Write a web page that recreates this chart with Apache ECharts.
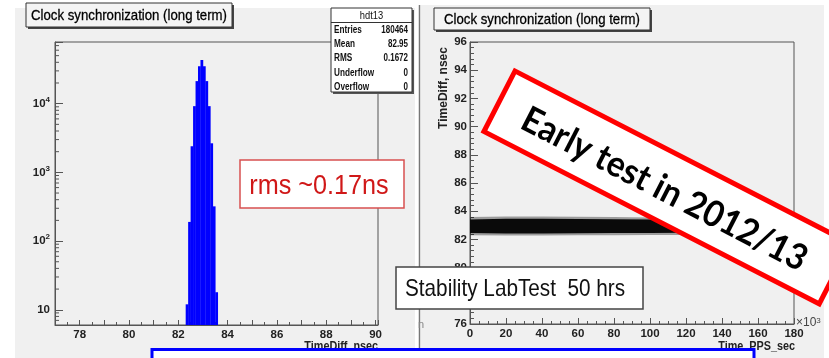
<!DOCTYPE html>
<html>
<head>
<meta charset="utf-8">
<script src="https://cdn.jsdelivr.net/npm/echarts@6/dist/echarts.min.js"></script>
<style>
  html, body { margin: 0; padding: 0; background: #ffffff; }
  #chart { width: 829px; height: 358px; }
</style>
</head>
<body>
<div id="chart"></div>
<script>
// ---- Left panel: histogram of TimeDiff (ns), log-scale counts ----
const binEdges  = [82.3, 82.4, 82.5, 82.6, 82.7, 82.8, 82.9, 83.0, 83.1, 83.2, 83.3, 83.4, 83.5, 83.6];
const binCounts = [12, 190, 2400, 9200, 21300, 35000, 43100, 35000, 21300, 9200, 2650, 320, 18];
const histXTicks = [78, 80, 82, 84, 86, 88, 90];
const histLogMinor = [7, 8, 9, 20, 30, 40, 50, 60, 70, 80, 90, 200, 300, 400, 500, 600, 700, 800, 900,
                      2000, 3000, 4000, 5000, 6000, 7000, 8000, 9000, 20000, 30000, 40000, 50000, 60000, 70000];
const statsRows = [
  ['Entries', '180464'],
  ['Mean', '82.95'],
  ['RMS', '0.1672'],
  ['Underflow', '0'],
  ['Overflow', '0']
];

// ---- Right panel: TimeDiff (ns) versus time (s), dense scatter band ----
const bandTime      = [0, 20000, 40000, 60000, 80000, 100000, 120000, 140000, 160000, 180000];
const bandOuterLow  = [82.30, 82.28, 82.28, 82.30, 82.30, 82.32, 82.32, 82.32, 82.32, 82.32];
const bandOuterHigh = [83.58, 83.62, 83.62, 83.60, 83.58, 83.56, 83.55, 83.55, 83.55, 83.55];
const bandInnerLow  = [82.45, 82.42, 82.42, 82.44, 82.45, 82.46, 82.47, 82.47, 82.47, 82.47];
const bandInnerHigh = [83.42, 83.46, 83.46, 83.44, 83.43, 83.41, 83.40, 83.40, 83.40, 83.40];

const SANS = "'Liberation Sans','DejaVu Sans',sans-serif";
const PANEL = '#f0f0f0';
const FRAME = '#555555';

const histXMin = 77, histXMax = 90.1, histYMin = 6, histYMax = 79000;

const chart = echarts.init(document.getElementById('chart'), null, { renderer: 'canvas' });

const supLabel = v => {
  const e = Math.log10(v);
  const r = Math.round(e);
  if (Math.abs(e - r) > 1e-6) return '';
  return r === 1 ? '10' : '10{s|' + r + '}';
};

const tickStyle = { color: FRAME, width: 1 };

// one filled polygon between the low and high envelopes of the scatter band
function bandSeries(low, high, color) {
  return {
    type: 'custom', xAxisIndex: 1, yAxisIndex: 1, silent: true,
    encode: { x: 0, y: [1, 2] },
    data: bandTime.map((t, i) => [t, low[i], high[i]]),
    renderItem: (params, api) => {
      if (params.dataIndex !== 0) return null;
      const pts = [];
      for (let i = 0; i < bandTime.length; i++) pts.push(api.coord([bandTime[i], low[i]]));
      for (let i = bandTime.length - 1; i >= 0; i--) pts.push(api.coord([bandTime[i], high[i]]));
      return { type: 'polygon', shape: { points: pts }, style: { fill: color } };
    }
  };
}

// stats box texts
const statsGraphics = [];
statsRows.forEach((row, i) => {
  const y = 30 + i * 14.3;
  statsGraphics.push({ type: 'text', z: 120, x: 334, y: y, scaleX: 0.82,
    style: { text: row[0], font: 'bold 10px ' + SANS, fill: '#111', textAlign: 'left', textVerticalAlign: 'middle' } });
  statsGraphics.push({ type: 'text', z: 120, x: 408, y: y, scaleX: 0.8,
    style: { text: row[1], font: 'bold 10px ' + SANS, fill: '#111', textAlign: 'right', textVerticalAlign: 'middle' } });
});

function titleBox(x, y, w, h, text) {
  return [
    { type: 'rect', z: 110, shape: { x: x + 2, y: y + 2, width: w, height: h }, style: { fill: '#444' } },
    { type: 'rect', z: 111, shape: { x: x, y: y, width: w, height: h }, style: { fill: '#f4f4f4', stroke: '#333', lineWidth: 1 } },
    { type: 'text', z: 112, x: x + w / 2, y: y + h / 2 + 0.5, scaleX: 0.88,
      style: { text: text, font: '15px ' + SANS, fill: '#000', textAlign: 'center', textVerticalAlign: 'middle',
        stroke: '#000', lineWidth: 0.3 } }
  ];
}

const labelFont = { color: '#222', fontSize: 11.5, fontWeight: 'bold', fontFamily: SANS };

const option = {
  backgroundColor: '#ffffff',
  animation: false,
  textStyle: { fontFamily: SANS },
  grid: [
    { left: 55, top: 42, width: 323, height: 283, show: true, borderColor: FRAME, borderWidth: 1, backgroundColor: 'transparent' },
    { left: 470, top: 42, width: 324, height: 282, show: true, borderColor: FRAME, borderWidth: 1, backgroundColor: 'transparent' }
  ],
  xAxis: [
    {
      type: 'value', gridIndex: 0, min: histXMin, max: histXMax, interval: 1,
      axisLine: { show: true, lineStyle: { color: FRAME } },
      axisTick: { show: true, inside: true, length: 5, lineStyle: tickStyle },
      minorTick: { show: true, splitNumber: 2, length: 3, lineStyle: tickStyle },
      splitLine: { show: false },
      axisLabel: Object.assign({ margin: 4, formatter: v => histXTicks.indexOf(v) >= 0 ? String(v) : '' }, labelFont)
    },
    {
      type: 'value', gridIndex: 1, min: 0, max: 180000, interval: 20000,
      axisLine: { show: true, lineStyle: { color: FRAME } },
      axisTick: { show: true, inside: true, length: 6, lineStyle: tickStyle },
      minorTick: { show: true, splitNumber: 4, length: 3, lineStyle: tickStyle },
      splitLine: { show: false },
      axisLabel: Object.assign({ margin: 4, formatter: v => String(v / 1000) }, labelFont)
    }
  ],
  yAxis: [
    {
      type: 'log', logBase: 10, gridIndex: 0, min: histYMin, max: histYMax,
      axisLine: { show: true, lineStyle: { color: FRAME } },
      axisTick: { show: true, inside: true, length: 8, lineStyle: tickStyle },
      minorTick: { show: false },
      splitLine: { show: false },
      axisLabel: Object.assign({
        margin: 5, lineHeight: 16, formatter: supLabel,
        rich: { s: { fontSize: 8, fontWeight: 'bold', fontFamily: SANS, verticalAlign: 'top', lineHeight: 8, color: '#222' } }
      }, labelFont)
    },
    {
      type: 'value', gridIndex: 1, min: 76, max: 96, interval: 2,
      axisLine: { show: true, lineStyle: { color: FRAME } },
      axisTick: { show: true, inside: true, length: 8, lineStyle: tickStyle },
      minorTick: { show: true, splitNumber: 5, length: 4, lineStyle: tickStyle },
      splitLine: { show: false },
      axisLabel: Object.assign({ margin: 3 }, labelFont)
    }
  ],
  series: [
    {
      // histogram bins
      type: 'custom', xAxisIndex: 0, yAxisIndex: 0, silent: true,
      encode: { x: [0, 1], y: 2 },
      data: binCounts.map((c, i) => [binEdges[i], binEdges[i + 1], c]),
      renderItem: (params, api) => {
        const top = api.coord([api.value(0), api.value(2)]);
        const bot = api.coord([api.value(1), histYMin]);
        return {
          type: 'rect',
          shape: { x: top[0], y: top[1], width: bot[0] - top[0] + 0.3, height: bot[1] - top[1] },
          style: { fill: '#0000ff' }
        };
      }
    },
    {
      // log-axis minor ticks (2..9 per decade)
      type: 'custom', xAxisIndex: 0, yAxisIndex: 0, silent: true, clip: false,
      encode: { x: 0, y: 1 },
      data: histLogMinor.map(v => [histXMin, v]),
      renderItem: (params, api) => {
        const p = api.coord([api.value(0), api.value(1)]);
        return { type: 'line', shape: { x1: p[0], y1: p[1], x2: p[0] + 4, y2: p[1] }, style: { stroke: FRAME, lineWidth: 1 } };
      }
    },
    bandSeries(bandOuterLow, bandOuterHigh, 'rgba(0,0,0,0.35)'),
    bandSeries(bandInnerLow, bandInnerHigh, '#0a0a0a')
  ],
  graphic: [
    // panel backgrounds
    { type: 'rect', z: -100, shape: { x: 15, y: 8, width: 400, height: 350 }, style: { fill: PANEL } },
    { type: 'rect', z: -100, shape: { x: 421, y: 5, width: 403, height: 353 }, style: { fill: PANEL } },
    { type: 'line', z: -99, shape: { x1: 419.5, y1: 5, x2: 419.5, y2: 358 }, style: { stroke: '#777', lineWidth: 1.5 } },

    // axis titles
    { type: 'text', z: 50, x: 378, y: 347, scaleX: 0.9,
      style: { text: 'TimeDiff_nsec', font: 'bold 12px ' + SANS, fill: '#222', textAlign: 'right', textVerticalAlign: 'middle' } },
    { type: 'text', z: 50, x: 795, y: 347, scaleX: 0.9,
      style: { text: 'Time_PPS_sec', font: 'bold 12px ' + SANS, fill: '#222', textAlign: 'right', textVerticalAlign: 'middle' } },
    { type: 'text', z: 50, x: 444, y: 88, rotation: Math.PI / 2,
      style: { text: 'TimeDiff, nsec', font: 'bold 12px ' + SANS, fill: '#222', textAlign: 'center', textVerticalAlign: 'middle' } },
    { type: 'text', z: 50, x: 796, y: 323,
      style: { text: '×10{s|3}', font: '12px ' + SANS, fill: '#444', textAlign: 'left', textVerticalAlign: 'middle',
        rich: { s: { font: '8px ' + SANS, fill: '#444', verticalAlign: 'top', lineHeight: 8 } } } },
    { type: 'text', z: 50, x: 421, y: 325,
      style: { text: 'n', font: '11px ' + SANS, fill: '#888', textAlign: 'center', textVerticalAlign: 'middle' } },

    // title boxes
    ...titleBox(26, 3, 206, 24, 'Clock synchronization (long term)'),
    ...titleBox(434, 8, 216, 22, 'Clock synchronization (long term)'),

    // statistics box
    { type: 'rect', z: 118, shape: { x: 333, y: 10, width: 81, height: 84 }, style: { fill: '#555' } },
    { type: 'rect', z: 119, shape: { x: 331, y: 8, width: 81, height: 84 }, style: { fill: '#ffffff', stroke: '#333', lineWidth: 1 } },
    { type: 'line', z: 120, shape: { x1: 331, y1: 22.5, x2: 412, y2: 22.5 }, style: { stroke: '#333', lineWidth: 1 } },
    { type: 'text', z: 120, x: 371.5, y: 15.5, scaleX: 0.85,
      style: { text: 'hdt13', font: '11px ' + SANS, fill: '#111', textAlign: 'center', textVerticalAlign: 'middle' } },
    ...statsGraphics,

    // annotation: rms
    { type: 'rect', z: 130, shape: { x: 240, y: 160, width: 164, height: 48 }, style: { fill: '#ffffff', stroke: '#d85050', lineWidth: 1.5 } },
    { type: 'text', z: 131, x: 319, y: 186, scaleX: 0.9,
      style: { text: 'rms ~0.17ns', font: '28px ' + SANS, fill: '#d01818', textAlign: 'center', textVerticalAlign: 'middle' } },

    // annotation: stability test
    { type: 'rect', z: 130, shape: { x: 396, y: 267, width: 247, height: 42 }, style: { fill: '#ffffff', stroke: '#444', lineWidth: 1.5 } },
    { type: 'text', z: 131, x: 405, y: 289, scaleX: 0.864,
      style: { text: 'Stability LabTest  50 hrs', font: '24px ' + SANS, fill: '#111', textAlign: 'left', textVerticalAlign: 'middle' } },

    // annotation: rotated banner
    {
      type: 'group', z: 140, x: 515, y: 71, rotation: -0.4747,
      children: [
        { type: 'rect', z: 140, shape: { x: 0, y: 0, width: 377, height: 68 }, style: { fill: '#ffffff', stroke: '#ff0000', lineWidth: 5 } },
        { type: 'text', z: 141, x: 187, y: 37, scaleX: 0.93,
          style: { text: 'Early test in 2012/13', font: 'bold 36px Lato, ' + SANS, fill: '#000', textAlign: 'center', textVerticalAlign: 'middle' } }
      ]
    },

    // blue frame along the bottom
    { type: 'rect', z: 150, shape: { x: 152, y: 349.5, width: 602, height: 20 }, style: { fill: '#ffffff', stroke: '#0000ff', lineWidth: 3 } }
  ]
};

chart.setOption(option);
</script>
</body>
</html>
